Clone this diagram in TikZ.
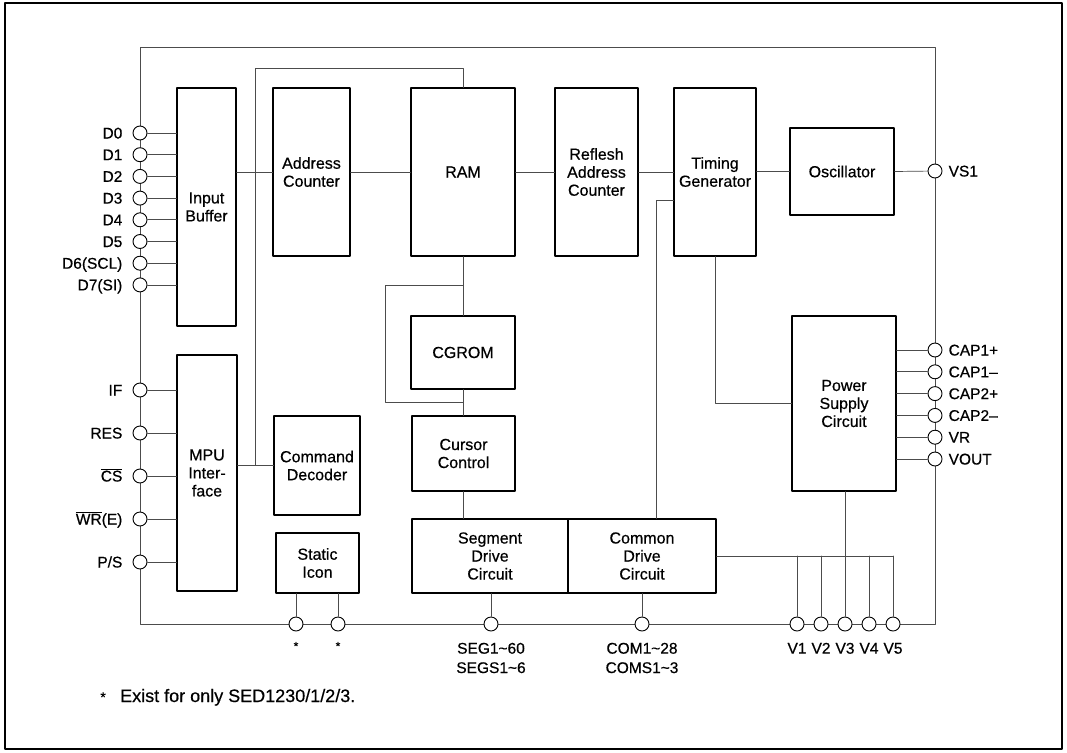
\documentclass[tikz,border=0pt]{standalone}
\usepackage{fontspec}
\setmainfont{Liberation Sans}[FakeBold=0.5]
\usetikzlibrary{positioning,calc}

\begin{document}
\begin{tikzpicture}[x=1pt,y=-1pt,line cap=round,line join=round]
\path[fill=white] (0,0) rectangle (1067,752);
\draw[line width=1.4pt] (5,3) rectangle (1062,749);
\tikzset{blk/.style={draw,line width=1.2pt,align=center,inner sep=0pt,font=\fontsize{16}{18}\selectfont},wire/.style={draw=black!70,line width=0.7pt},pin/.style={draw,circle,fill=white,line width=0.9pt,minimum size=14pt,inner sep=0pt},plab/.style={inner sep=0pt,text height=11pt,text depth=0pt,font=\fontsize{15.5}{18}\selectfont},ast/.style={inner sep=0pt,text height=8.6pt,text depth=0pt,font=\fontsize{12}{12}\selectfont}}
% blocks
\node[blk,minimum width=59pt,minimum height=238pt] (ibuf) at (206.5,207) {Input\\Buffer};
\node[blk,minimum width=77pt,minimum height=168pt] (actr) at (311.5,172) {Address\\Counter};
\node[blk,minimum width=104pt,minimum height=168pt] (ram) at (463,172) {RAM};
\node[blk,minimum width=83pt,minimum height=168pt] (ractr) at (596.5,172) {Reflesh\\Address\\Counter};
\node[blk,minimum width=82pt,minimum height=168pt] (tgen) at (715,172) {Timing\\Generator};
\node[blk,minimum width=104pt,minimum height=87pt] (osc) at (842,171.5) {Oscillator};
\node[blk,minimum width=104pt,minimum height=73pt] (cgrom) at (463,352.5) {CGROM};
\node[blk,minimum width=103pt,minimum height=75pt] (cursor) at (463.5,453.5) {Cursor\\Control};
\node[blk,minimum width=60pt,minimum height=236pt] (mpu) at (207,473) {MPU\\Inter-\\face};
\node[blk,minimum width=86pt,minimum height=99pt] (cmd) at (317,465.5) {Command\\Decoder};
\node[blk,minimum width=83pt,minimum height=60pt] (icon) at (317.5,563) {Static\\Icon};
\node[blk,minimum width=156pt,minimum height=74pt] (segdrv) at (490,556) {Segment\\Drive\\Circuit};
\node[blk,minimum width=148pt,minimum height=74pt] (comdrv) at (642,556) {Common\\Drive\\Circuit};
\node[blk,minimum width=104pt,minimum height=175pt] (psup) at (844,403.5) {Power\\Supply\\Circuit};
% chip outline
\coordinate (ctl) at (140,47); \coordinate (cbr) at (935,624);
\draw[wire] (ctl) rectangle (cbr);
% pins
\foreach \n/\t [count=\i from 0] in {d0/D0,d1/D1,d2/D2,d3/D3,d4/D4,d5/D5,d6/D6(SCL),d7/D7(SI)} {\node[pin] (\n) at (140,133+21.7*\i) {}; \node[plab,left=10pt of \n] (l\n) {\t};}
\foreach \n/\t [count=\i from 0] in {pif/IF,pres/RES,pcs/$\overline{\hbox{CS}}$,pwr/$\overline{\hbox{WR}}$(E),pps/{P/S}} {\node[pin] (\n) at (140,390+43*\i) {}; \node[plab,left=10pt of \n] (l\n) {\t};}
\node[pin] (vs1) at (935,171) {}; \node[plab,right=6pt of vs1] (lvs1) {VS1};
\foreach \n/\t [count=\i from 0] in {cap1p/CAP1+,cap1m/CAP1--,cap2p/CAP2+,cap2m/CAP2--,vr/VR,vout/VOUT} {\node[pin] (\n) at (935,350+21.8*\i) {}; \node[plab,right=6pt of \n] (l\n) {\t};}
\node[pin] (st1) at (296,624) {}; \node[pin] (st2) at (338,624) {};
\node[pin] (segp) at (491,624) {}; \node[pin] (comp) at (642,624) {};
\foreach \i in {1,...,5} {\node[pin] (v\i) at (773+24*\i,624) {}; \node[plab,below=11pt of v\i] (lv\i) {V\i};}
\node[ast,below=10pt of st1] (ast1) {*}; \node[ast,below=10pt of st2] (ast2) {*};
\node[plab,below=11pt of segp] (lseg) {SEG1\textasciitilde60}; \node[plab,below=8pt of lseg] (lsegs) {SEGS1\textasciitilde6};
\node[plab,below=11pt of comp] (lcom) {COM1\textasciitilde28}; \node[plab,below=8pt of lcom] (lcoms) {COMS1\textasciitilde3};
% connections
\foreach \n in {d0,d1,d2,d3,d4,d5,d6,d7} \draw[wire] (\n) -- (\n -| ibuf.west);
\foreach \n in {pif,pres,pcs,pwr,pps} \draw[wire] (\n) -- (\n -| mpu.west);
\foreach \n in {cap1p,cap1m,cap2p,cap2m,vr,vout} \draw[wire] (\n) -- (\n -| psup.east);
\coordinate (abus) at (255,68);
\draw[wire] (ibuf.east |- actr.west) -- (actr.west);
\draw[wire] (ram.north) |- (abus) |- (cmd.west);
\draw[wire] (mpu.east |- cmd.west) -- (cmd.west);
\draw[wire] (actr) -- (ram); \draw[wire] (ram) -- (ractr); \draw[wire] (ractr) -- (tgen);
\draw[wire] (tgen.east |- osc.west) -- (osc.west); \draw[wire] (osc.east) -- (vs1);
\draw[wire] (ram) -- (cgrom); \draw[wire] (cgrom.south) -- (cgrom.south |- cursor.north);
\coordinate (loopa) at (385,285); \coordinate (loopb) at (385,402);
\draw[wire] (ram.south |- loopa) -- (loopa) -- (loopb) -- (loopb -| cgrom.south);
\draw[wire] (cursor.south) -- (cursor.south |- segdrv.north);
\coordinate (tgtap) at (656,200);
\draw[wire] (tgtap -| tgen.west) -- (tgtap) -- (tgtap |- comdrv.north);
\draw[wire] (tgen.south) |- (psup.west);
\draw[wire] (comdrv.east) -- (comdrv.east -| v5);
\foreach \i in {1,...,5} \draw[wire] (v\i |- comdrv.east) -- (v\i);
\draw[wire] (psup.south -| v3) -- (v3 |- comdrv.east);
\draw[wire] (st1 |- icon.south) -- (st1); \draw[wire] (st2 |- icon.south) -- (st2);
\draw[wire] (segp |- segdrv.south) -- (segp); \draw[wire] (comdrv.south) -- (comp);
% footnote
\node[anchor=base west,inner sep=0pt,font=\fontsize{18}{20}\selectfont] (note) at (120,702) {Exist for only SED1230/1/2/3.};
\node[anchor=base east,inner sep=0pt,font=\fontsize{14}{16}\selectfont] (notestar) at ([xshift=-14pt]note.base west) {*};
\end{tikzpicture}
\end{document}
